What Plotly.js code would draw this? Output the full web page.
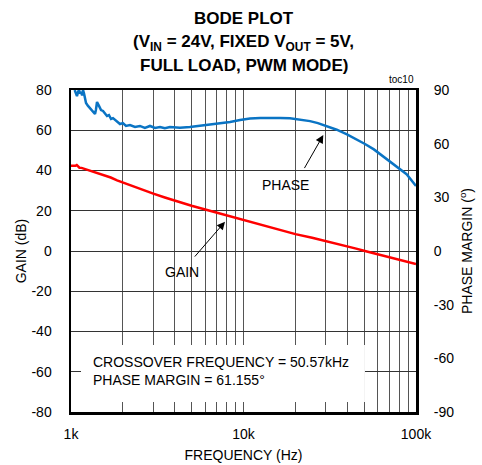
<!DOCTYPE html>
<html><head><meta charset="utf-8">
<script src="https://cdn.plot.ly/plotly-3.0.1.min.js"></script>
<style>html,body{margin:0;padding:0;background:#fff}#chart{width:482px;height:465px}</style>
</head><body><div id="chart"></div>
<script>
// Gain curve (frequency in kHz, gain in dB)
const gainFreqKHz = [1.0, 1.02, 1.04, 1.06, 1.08, 1.1, 1.12, 1.15, 1.2, 1.25, 1.3, 1.4, 1.5, 1.6, 1.7, 1.85, 2.0, 2.25, 2.5, 2.75, 3.0, 3.5, 4.0, 4.5, 5.0, 6.0, 7.0, 8.0, 9.0, 10, 12, 15, 17, 20, 25, 30, 35, 40, 45, 50.57, 60, 70, 80, 90, 100];
const gainDb      = [42.3, 42.2, 42.4, 42.3, 42.7, 41.8, 41.4, 41.3, 40.8, 40.5, 40.0, 39.0, 38.0, 37.3, 36.5, 35.1, 34.0, 32.5, 31.0, 29.8, 28.5, 26.6, 25.0, 23.7, 22.5, 20.6, 19.0, 17.6, 16.5, 15.4, 13.6, 11.4, 10.1, 8.4, 6.6, 5.0, 3.6, 2.4, 1.2, 0.0, -1.6, -3.0, -4.3, -5.4, -6.5];

// Phase curve (frequency in kHz, phase in degrees)
const phaseFreqKHz = [1.05, 1.07, 1.083, 1.10, 1.113, 1.13, 1.143, 1.16, 1.174, 1.19, 1.205, 1.222, 1.255, 1.289, 1.324, 1.36, 1.378, 1.395, 1.415, 1.453, 1.493, 1.533, 1.574, 1.617, 1.66, 1.706, 1.752, 1.824, 1.923, 2.0, 2.084, 2.197, 2.35, 2.51, 2.68, 2.87, 3.07, 3.28, 3.5, 3.75, 4.0, 4.28, 4.89, 5.6, 6.39, 7.3, 8.36, 9.55, 10.9, 12.5, 14.3, 16.3, 18.6, 21.2, 24.3, 27.0, 30.3, 34.7, 39.8, 45, 50.6, 57, 67.3, 77, 88.2, 100];
const phaseDeg     = [90, 87.5, 86.6, 89.0, 90, 88.0, 88.9, 87.0, 90, 88.0, 86.1, 82.7, 81.1, 79.9, 78.8, 77.7, 76.6, 79.0, 83.3, 81.1, 78.8, 78.3, 76.6, 75.5, 76.0, 73.8, 74.3, 72.7, 71.0, 71.5, 69.9, 70.4, 69.3, 69.9, 68.8, 69.9, 68.8, 69.3, 68.6, 69.3, 69.0, 68.9, 69.3, 70.0, 70.6, 71.6, 72.1, 73.2, 74.0, 74.3, 74.5, 74.3, 74.2, 73.5, 72.6, 71.5, 70.0, 67.8, 65.2, 62.5, 59.8, 56.8, 51.4, 47.5, 42.9, 36.3];

// Axis ticks
const xTickValsKHz = [1,2,3,4,5,6,7,8,9,10,20,30,40,50,60,70,80,90,100];
const xTickLabels  = ['1k','','','','','','','','','10k','','','','','','','','','100k'];
const gainTicks  = [-80,-60,-40,-20,0,20,40,60,80];
const phaseTicks = [-90,-60,-30,0,30,60,90];
const titleLines = ['BODE PLOT', '(V<sub>IN</sub> = 24V, FIXED V<sub>OUT</sub> = 5V,', 'FULL LOAD, PWM MODE)'];

const FONT = 'Liberation Sans, Arial, sans-serif';
const toHz = a => a.map(v => v * 1000);
const txt = a => a.map(v => String(v));

const traces = [
  {x: toHz(gainFreqKHz), y: gainDb, type: 'scatter', mode: 'lines',
   line: {color: '#ff0000', width: 2.5}, xaxis: 'x', yaxis: 'y', hoverinfo: 'skip'},
  {x: toHz(phaseFreqKHz), y: phaseDeg, type: 'scatter', mode: 'lines',
   line: {color: '#0a74c4', width: 2.5}, xaxis: 'x', yaxis: 'y2', hoverinfo: 'skip'}
];

const titleY = [1.2236, 1.146, 1.0776];
const titleAnns = titleLines.map((t, i) => ({
  text: '<b>' + t + '</b>', xref: 'paper', yref: 'paper', x: 0.5, y: titleY[i],
  xanchor: 'center', yanchor: 'middle', showarrow: false,
  font: {family: FONT, size: 17, color: '#000'}
}));

const layout = {
  width: 482, height: 465,
  margin: {l: 71, r: 66, t: 90, b: 53},
  paper_bgcolor: '#fff', plot_bgcolor: '#fff',
  showlegend: false,
  font: {family: FONT, size: 14, color: '#000'},
  xaxis: {
    type: 'log', range: [3, 5],
    tickvals: toHz(xTickValsKHz), ticktext: xTickLabels,
    showgrid: true, gridcolor: '#555', gridwidth: 1,
    showline: true, mirror: true, linecolor: '#000', linewidth: 2.5,
    ticks: 'outside', ticklen: 8, tickcolor: 'rgba(0,0,0,0)',
    tickfont: {size: 14}, zeroline: false,
    title: {text: 'FREQUENCY (Hz)', font: {size: 14}, standoff: 9}
  },
  yaxis: {
    range: [-80, 80], tickvals: gainTicks, ticktext: txt(gainTicks),
    showgrid: true, gridcolor: '#333', gridwidth: 1,
    showline: true, mirror: true, linecolor: '#000', linewidth: 2.5,
    ticks: 'outside', ticklen: 14, tickcolor: 'rgba(0,0,0,0)',
    tickfont: {size: 14}, zeroline: false,
    title: {text: 'GAIN (dB)', font: {size: 14}, standoff: 2}
  },
  yaxis2: {
    range: [-90, 90], tickvals: phaseTicks, ticktext: txt(phaseTicks),
    overlaying: 'y', side: 'right',
    showgrid: false, zeroline: false, showline: false,
    ticks: 'outside', ticklen: 14, tickcolor: 'rgba(0,0,0,0)',
    tickfont: {size: 14},
    title: {text: 'PHASE MARGIN (<sup>o</sup>)', font: {size: 14}, standoff: 8}
  },
  shapes: [
    {type: 'rect', xref: 'paper', yref: 'paper', x0: 0.029, x1: 0.852, y0: 0.031, y1: 0.208,
     fillcolor: '#fff', line: {width: 0}, layer: 'above'}
  ],
  annotations: titleAnns.concat([
    {text: 'toc10', xref: 'paper', yref: 'paper', x: 1, y: 1.008, xanchor: 'right', yanchor: 'bottom',
     showarrow: false, font: {size: 10}},
    {text: 'PHASE', xref: 'x', yref: 'y', x: 4.2406, y: 32.8, showarrow: false, font: {size: 14}},
    {text: 'GAIN', xref: 'x', yref: 'y', x: 3.6417, y: -10.3, showarrow: false, font: {size: 14}},
    {text: ' ', xref: 'x', yref: 'y', x: 4.4626, y: 57.6, ax: -20, ay: 35, showarrow: true,
     arrowhead: 2, arrowsize: 1.6, arrowwidth: 1, arrowcolor: '#000', font: {size: 1}},
    {text: ' ', xref: 'x', yref: 'y', x: 3.8928, y: 14.56, ax: -31.7, ay: 36.6, showarrow: true,
     arrowhead: 2, arrowsize: 1.6, arrowwidth: 1, arrowcolor: '#000', font: {size: 1}},
    {text: 'CROSSOVER FREQUENCY = 50.57kHz', xref: 'x', yref: 'y', x: 3.116, y: -55.2,
     xanchor: 'left', showarrow: false, font: {size: 14}},
    {text: 'PHASE MARGIN = 61.155°', xref: 'x', yref: 'y', x: 3.116, y: -64.1,
     xanchor: 'left', showarrow: false, font: {size: 14}}
  ])
};

Plotly.newPlot('chart', traces, layout, {staticPlot: true, displayModeBar: false});
</script>
</body></html>
